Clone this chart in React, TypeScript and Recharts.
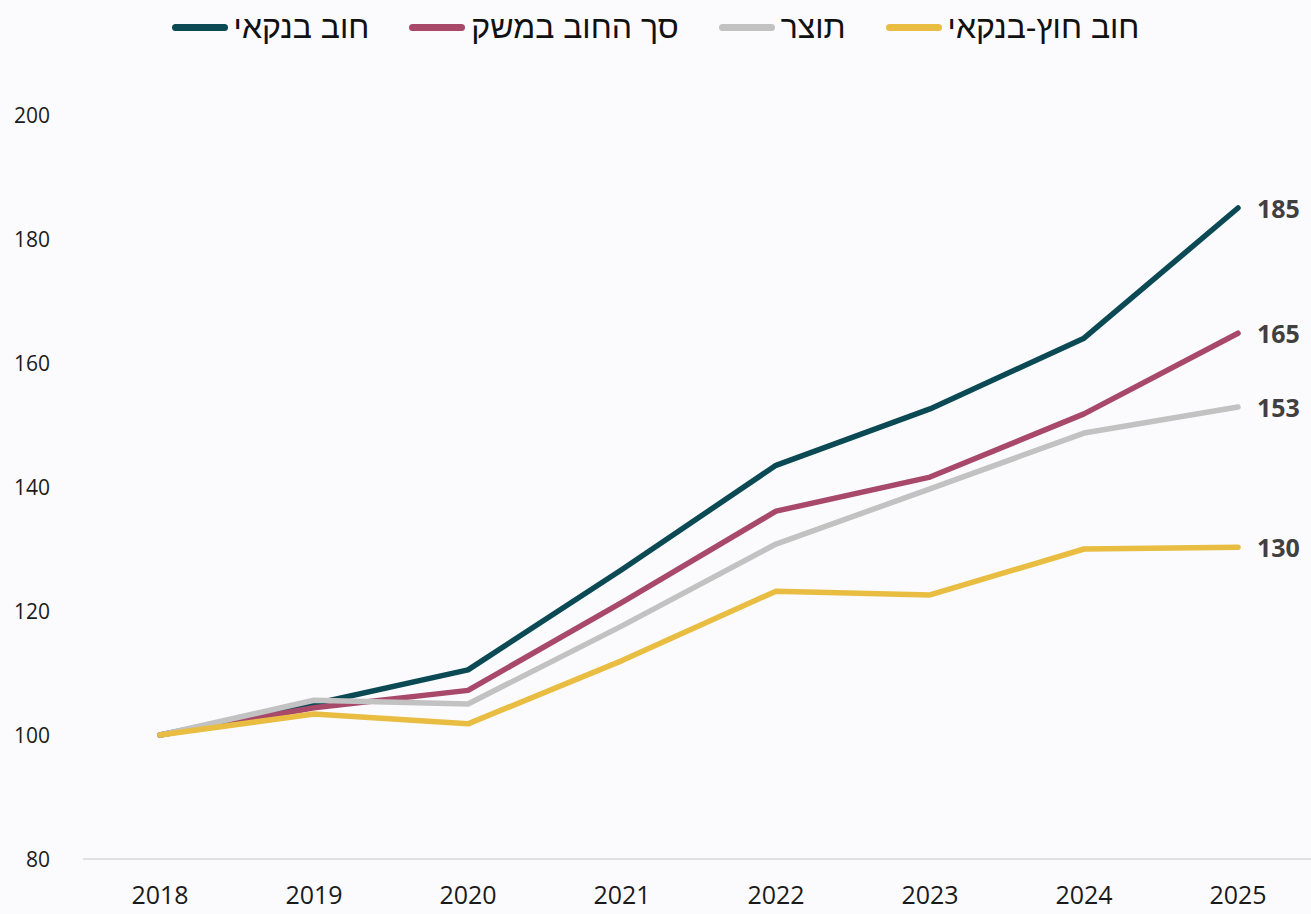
import React from 'react';
import { LineChart, Line, XAxis, YAxis, LabelList } from 'recharts';

const years = [2018, 2019, 2020, 2021, 2022, 2023, 2024, 2025];
const bankDebt = [100, 105, 110.5, 126.7, 143.5, 152.6, 164, 185];
const totalDebt = [100, 104.4, 107.2, 121.4, 136.1, 141.6, 151.8, 164.8];
const gdp = [100, 105.6, 105, 117.6, 130.8, 139.7, 148.7, 152.9];
const nonBankDebt = [100, 103.4, 101.8, 112, 123.2, 122.6, 130, 130.3];
const yTicks = [80, 100, 120, 140, 160, 180, 200];

const series = [
  { key: 'bank', name: 'חוב בנקאי', color: '#0B4A55', values: bankDebt },
  { key: 'total', name: 'סך החוב במשק', color: '#A8496A', values: totalDebt },
  { key: 'gdp', name: 'תוצר', color: '#C2C2C2', values: gdp },
  { key: 'nonbank', name: 'חוב חוץ-בנקאי', color: '#E8BD42', values: nonBankDebt },
];

const data = years.map((year, i) => {
  const row: Record<string, number> = { year };
  series.forEach((s) => {
    row[s.key] = s.values[i];
  });
  return row;
});

const numFont = '"Open Sans", sans-serif';

const YTick = (props: any) => {
  const { y, payload } = props;
  return (
    <text x={50} y={y} textAnchor="end" dominantBaseline="central" fontSize={21} fill="#1a1a1a" fontFamily={numFont}>
      {payload.value}
    </text>
  );
};

const XTick = (props: any) => {
  const { x, y, payload } = props;
  return (
    <text x={x} y={y + 37} textAnchor="middle" fontSize={25} fill="#1a1a1a" fontFamily={numFont}>
      {payload.value}
    </text>
  );
};

const EndLabel = (props: any) => {
  const { x, y, value, index } = props;
  if (index !== years.length - 1) return null;
  return (
    <text x={x + 19} y={y} dominantBaseline="central" fontSize={25} fontWeight={700} fill="#404040" fontFamily={numFont}>
      {Math.round(value)}
    </text>
  );
};

const ChartLegend = () => (
  <div
    style={{
      position: 'absolute',
      top: 9,
      left: 0,
      width: 1311,
      display: 'flex',
      justifyContent: 'center',
      gap: 40,
      fontFamily: '"Liberation Sans", sans-serif',
      fontSize: 32,
      color: '#111',
    }}
  >
    {series.map((s) => (
      <div key={s.key} style={{ display: 'flex', alignItems: 'center' }}>
        <div style={{ width: 56, height: 7, borderRadius: 4, background: s.color, marginRight: 6 }} />
        <span style={{ direction: 'rtl' }}>{s.name}</span>
      </div>
    ))}
  </div>
);

export default function App() {
  return (
    <div style={{ position: 'fixed', left: 0, top: 0, width: 1311, height: 914, overflow: 'hidden', background: '#FBFBFD' }}>
      <ChartLegend />
      <LineChart width={1315} height={914} data={data} margin={{ top: 115, right: 0, bottom: 0, left: 0 }}>
        <XAxis
          dataKey="year"
          type="number"
          domain={[2017.5, 2025.5]}
          ticks={years}
          height={55}
          axisLine={{ stroke: '#D9D9D9', strokeWidth: 1.5 }}
          tickLine={false}
          tick={<XTick />}
          interval={0}
        />
        <YAxis
          domain={[80, 200]}
          ticks={yTicks}
          width={83}
          axisLine={false}
          tickLine={false}
          tick={<YTick />}
          interval={0}
        />
        {series.map((s) => (
          <Line
            key={s.key}
            dataKey={s.key}
            name={s.name}
            stroke={s.color}
            strokeWidth={5.5}
            strokeLinecap="round"
            strokeLinejoin="round"
            dot={false}
            activeDot={false}
            isAnimationActive={false}
          >
            <LabelList dataKey={s.key} content={<EndLabel />} />
          </Line>
        ))}
      </LineChart>
    </div>
  );
}
